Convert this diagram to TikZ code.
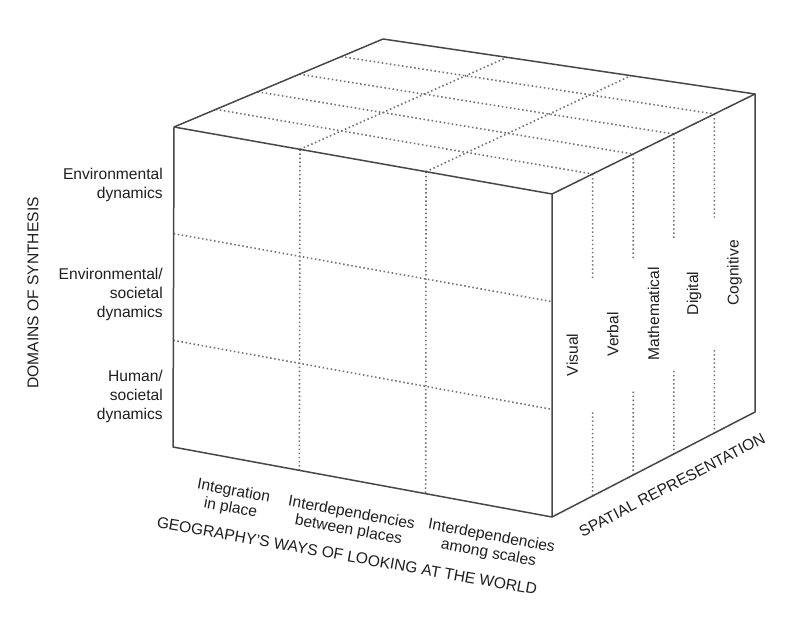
\documentclass[tikz,border=0pt]{standalone}
\usepackage{fontspec}
\setmainfont{Liberation Sans}
\usetikzlibrary{calc}
\begin{document}
\begin{tikzpicture}[x=1pt,y=-1pt,
  edge/.style={line width=1.5pt, draw=black!72, line join=round},
  gridline/.style={line width=1.6pt, draw=black!55, dash pattern=on 1.5pt off 2.6pt},
  lbl/.style={font=\fontsize{15.6}{19}\selectfont, text=black!88, inner sep=0pt, align=center},
  blbl/.style={font=\fontsize{15.6}{17}\selectfont, text=black!88, inner sep=0pt, align=center, rotate=-10.5}]
\useasboundingbox (0,0) rectangle (810,620);
\fill[white] (0,0) rectangle (810,620);
% cube corners
\coordinate (A) at (174,127);
\coordinate (B) at (552,194);
\coordinate (C) at (552,517);
\coordinate (D) at (173,447);
\coordinate (G) at (383,39);
\coordinate (E) at (755,94);
\coordinate (F) at (755,412);
% top face grid
\foreach \t in {0.2,0.4,0.6,0.8}{
  \path ($(A)!\t!(G)$) coordinate (tl) ($(B)!\t!(E)$) coordinate (tr);
  \draw[gridline] (tl) -- (tr);
}
\foreach \s in {0.3333,0.6667}{
  \path ($(A)!\s!(B)$) coordinate (tf) ($(G)!\s!(E)$) coordinate (tb);
  \draw[gridline] (tf) -- (tb);
}
% front face grid
\foreach \s in {0.3333,0.6667}{
  \path ($(A)!\s!(B)$) coordinate (ft) ($(D)!\s!(C)$) coordinate (fb);
  \draw[gridline] (ft) -- (fb);
  \path ($(A)!\s!(D)$) coordinate (fl) ($(B)!\s!(C)$) coordinate (fr);
  \draw[gridline] (fl) -- (fr);
}
% right face grid
\foreach \t in {0.2,0.4,0.6,0.8}{
  \path ($(B)!\t!(E)$) coordinate (rt) ($(C)!\t!(F)$) coordinate (rb);
  \path ($(rt)!0.325!(rb)$) coordinate (g1) ($(rt)!0.74!(rb)$) coordinate (g2);
  \draw[gridline] (rt) -- (g1);
  \draw[gridline] (g2) -- (rb);
}
% solid edges
\draw[edge] (A) -- (B) -- (C) -- (D) -- cycle;
\draw[edge] (A) -- (G) -- (E) -- (B);
\draw[edge] (E) -- (F) -- (C);
% right face labels
\foreach \t/\txt in {0.1/Visual,0.3/Verbal,0.5/Mathematical,0.7/Digital,0.9/Cognitive}{
  \path ($(B)!\t!(E)$) coordinate (lt) ($(C)!\t!(F)$) coordinate (lb);
  \node[lbl, rotate=90] (lab\t) at ($(lt)!0.53!(lb)$) {\txt};
}
% left labels
\node[lbl, anchor=east, align=right] (env) at (163,185) {Environmental\\dynamics};
\node[lbl, anchor=east, align=right] (envsoc) at (163,294) {Environmental/\\societal\\dynamics};
\node[lbl, anchor=east, align=right] (hum) at (163,396) {Human/\\societal\\dynamics};
\node[lbl, rotate=90] (dom) at (33,293) {DOMAINS OF SYNTHESIS};
% bottom labels
\node[blbl] (integ) at (232,500) {Integration\\in place};
\node[blbl] (between) at (350,522) {Interdependencies\\between places};
\node[blbl] (among) at (490,545) {Interdependencies\\among scales};
\node[lbl, rotate=-10] (geo) at (347,556) {GEOGRAPHY'S WAYS OF LOOKING AT THE WORLD};
\node[lbl, rotate=27.5] (spat) at (672,485) {SPATIAL REPRESENTATION};
\end{tikzpicture}
\end{document}
